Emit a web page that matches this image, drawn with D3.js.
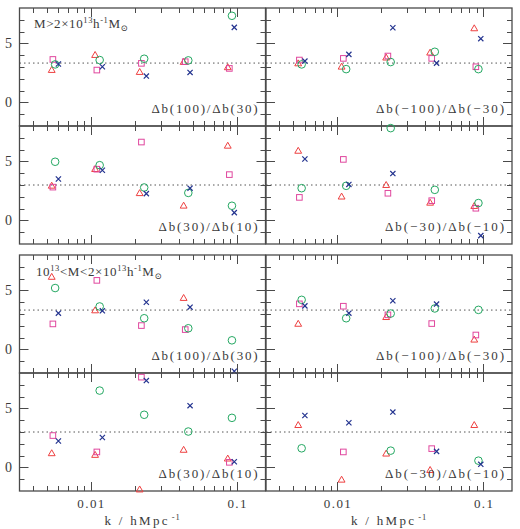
<!DOCTYPE html>
<html><head><meta charset="utf-8">
<script src="https://cdn.jsdelivr.net/npm/d3@7"></script>
<style>body{margin:0;background:#fff}svg{display:block}</style>
</head><body>
<svg id="c" width="520" height="529"></svg>
<script>
// k positions of each series (slightly offset per series)
const kTri   = [0.0054, 0.0107, 0.0216, 0.0432, 0.0866];
const kSq    = [0.0055, 0.0110, 0.0222, 0.0443, 0.0888];
const kCir   = [0.0057, 0.0115, 0.0232, 0.0465, 0.0925];
const kCross = [0.0060, 0.0120, 0.0240, 0.0478, 0.0960];

// panel ratio labels and reference lines
const panelLabels = ["Δb(100)/Δb(30)", "Δb(−100)/Δb(−30)", "Δb(30)/Δb(10)", "Δb(−30)/Δb(−10)",
                     "Δb(100)/Δb(30)", "Δb(−100)/Δb(−30)", "Δb(30)/Δb(10)", "Δb(−30)/Δb(−10)"];
const refLines = [10/3, 10/3, 3, 3, 10/3, 10/3, 3, 3];

// values per panel: triangles, squares, circles, crosses
const triVals = [
  [2.74, 4.01, 2.57, 3.42, 2.97],
  [3.30, 3.02, 3.79, 4.21, 6.27],
  [2.93, 4.34, 2.30, 1.24, 6.32],
  [5.89, 2.01, 2.99, 1.49, 1.21],
  [6.14, 3.30, null, 4.35, null],
  [2.16, null, 2.73, null, 0.82],
  [1.19, 1.05, -1.88, 1.48, 0.74],
  [3.58, -1.05, 1.16, -0.23, 3.58]
];
const sqVals = [
  [3.64, 2.74, 3.31, 3.45, 2.88],
  [3.59, 3.73, 3.93, 3.73, 3.02],
  [2.82, 4.34, 6.64, null, 3.88],
  [1.95, 5.17, 2.30, 1.67, 1.03],
  [2.16, 5.85, 2.02, 1.68, null],
  [3.86, 3.66, 2.93, 2.19, 1.22],
  [2.70, 1.31, 7.65, null, 0.43],
  [null, 1.31, null, 1.59, null]
];
const cirVals = [
  [3.22, 3.59, 3.70, 3.56, 7.34],
  [3.22, 2.82, 3.42, 4.29, 2.82],
  [4.97, 4.68, 2.79, 2.33, 1.24],
  [2.73, 2.93, 7.82, 2.59, 1.47],
  [5.20, 3.64, 2.64, 1.79, 0.77],
  [4.20, 2.64, 3.04, 3.47, 3.35],
  [null, 6.51, 4.46, 3.04, 4.20],
  [1.62, null, 1.42, null, 0.57]
];
const crossVals = [
  [3.25, 3.02, 2.23, 2.54, 6.36],
  [3.50, 4.07, 6.33, 3.33, 5.40],
  [3.51, 4.25, 2.27, 2.73, 0.66],
  [5.20, 3.05, 3.97, null, -1.29],
  [3.07, 3.27, 4.00, 3.58, -1.85],
  [3.69, 3.07, 4.12, 3.84, null],
  [2.24, 2.53, 7.36, 5.23, 0.48],
  [4.40, 3.78, 4.69, 1.36, 0.26]
];

const xTickMajor = [0.01, 0.1];
const xTickLabels = ["0.01", "0.1"];
const yTickMajor = [0, 5];
const yDomain = [-2, 8];
const xDomain = [0.00325, 0.157];

const svg = d3.select("#c");
const colX = [19.5, 266];
const pw = 246;
const rowY = [8, 126, 255, 373];
const ph = 118;
const ink = "#4a4a4a";
const txt = "#3a3a3a";
const font = "'Liberation Serif', 'DejaVu Serif', serif";

const C = {tri:"#ee4040", sq:"#e0479e", cir:"#24a862", cross:"#23338f"};

// stretch text to a target width with letter-spacing, starting at its x
function fit(t, target) {
  const n = t.text().length;
  const w = t.node().getComputedTextLength();
  if (n > 1) t.attr("letter-spacing", ((target - w) / (n - 1)).toFixed(3));
  return t;
}

const xMinor = [];
[0.001, 0.01, 0.1].forEach(d => { for (let m = 2; m <= 9; m++) { const v = d*m; if (v > xDomain[0] && v < xDomain[1]) xMinor.push(v); } });
const yMinor = d3.range(-1, 8).filter(v => !yTickMajor.includes(v));

for (let p = 0; p < 8; p++) {
  const r = Math.floor(p/2), c = p % 2;
  const x0 = colX[c], y0 = rowY[r];
  const x = d3.scaleLog().domain(xDomain).range([x0, x0 + pw]);
  const y = d3.scaleLinear().domain(yDomain).range([y0 + ph, y0]);
  const g = svg.append("g");

  // reference dotted line
  g.append("line").attr("x1", x0).attr("x2", x0 + pw)
    .attr("y1", y(refLines[p])).attr("y2", y(refLines[p]))
    .attr("stroke", "#555").attr("stroke-width", 1).attr("stroke-dasharray", "1.5,3");

  // ticks
  const tk = g.append("g").attr("stroke", ink).attr("stroke-width", 1);
  const xt = xTickMajor.map(v => [v, 9]).concat(xMinor.map(v => [v, 5]));
  xt.forEach(([v, L]) => {
    const xx = Math.round(x(v)) + 0.5;
    tk.append("line").attr("x1", xx).attr("x2", xx).attr("y1", y0 + ph).attr("y2", y0 + ph - L);
    tk.append("line").attr("x1", xx).attr("x2", xx).attr("y1", y0).attr("y2", y0 + L);
  });
  const yt = yTickMajor.map(v => [v, 9]).concat(yMinor.map(v => [v, 5]));
  yt.forEach(([v, L]) => {
    const yy = Math.round(y(v)) + 0.5;
    tk.append("line").attr("x1", x0).attr("x2", x0 + L).attr("y1", yy).attr("y2", yy);
    tk.append("line").attr("x1", x0 + pw).attr("x2", x0 + pw - L).attr("y1", yy).attr("y2", yy);
  });

  // frame
  g.append("rect").attr("x", x0).attr("y", y0).attr("width", pw).attr("height", ph)
    .attr("fill", "none").attr("stroke", ink).attr("stroke-width", 1.3);

  // y tick labels
  if (c === 0) {
    yTickMajor.forEach(v => {
      g.append("text").attr("x", 12).attr("y", y(v) + 5).attr("text-anchor", "end")
        .attr("font-family", font).attr("font-size", 14).attr("fill", txt).text(v);
    });
  }

  // markers
  const mk = g.append("g").attr("fill", "none").attr("stroke-width", 1);
  triVals[p].forEach((v, i) => { if (v === null) return;
    const cx = x(kTri[i]), cy = y(v), s = 3.6;
    mk.append("path").attr("d", `M${cx},${cy - s}L${cx + s*0.95},${cy + s*0.65}L${cx - s*0.95},${cy + s*0.65}Z`).attr("stroke", C.tri);
  });
  sqVals[p].forEach((v, i) => { if (v === null) return;
    const cx = x(kSq[i]), cy = y(v), s = 2.8;
    mk.append("rect").attr("x", cx - s).attr("y", cy - s).attr("width", 2*s).attr("height", 2*s).attr("stroke", C.sq);
  });
  cirVals[p].forEach((v, i) => { if (v === null) return;
    mk.append("circle").attr("cx", x(kCir[i])).attr("cy", y(v)).attr("r", 3.8).attr("stroke", C.cir);
  });
  crossVals[p].forEach((v, i) => { if (v === null) return;
    const cx = x(kCross[i]), cy = y(v), s = 2.6;
    mk.append("path").attr("d", `M${cx - s},${cy - s}L${cx + s},${cy + s}M${cx - s},${cy + s}L${cx + s},${cy - s}`)
      .attr("stroke", C.cross).attr("stroke-width", 1.2);
  });

  // ratio label
  const wl = [106, 128, 99, 119][p % 4];
  fit(g.append("text").attr("x", x0 + pw - 8 - wl).attr("y", y0 + 104.5)
    .attr("font-family", font).attr("font-size", 13).attr("fill", txt).text(panelLabels[p]), wl);

  // x axis labels at bottom
  if (r === 3) {
    xTickMajor.forEach((v, i) => {
      const w = i === 0 ? 27 : 19;
      fit(g.append("text").attr("x", x(v) - w/2).attr("y", 508)
        .attr("font-family", font).attr("font-size", 13).attr("fill", txt).text(xTickLabels[i]), w);
    });
    const t = g.append("text").attr("x", x0 + pw/2 - 38).attr("y", 525)
      .attr("font-family", font).attr("font-size", 13).attr("fill", txt);
    fit(t.append("tspan").text("k / hMpc"), 63);
    t.append("tspan").attr("dx", 2).attr("dy", -5).attr("font-size", 8.5).attr("letter-spacing", 1).text("-1");
  }
}

// mass labels
function massLabel(parts, xx, yy) {
  const t = svg.append("text").attr("x", xx).attr("y", yy)
    .attr("font-family", font).attr("font-size", 13).attr("fill", txt).attr("letter-spacing", 0.6);
  let cur = 0;
  parts.forEach(([s, kind]) => {
    const sp = t.append("tspan").text(s);
    const target = kind === "sup" ? -5 : kind === "sub" ? 3 : 0;
    if (target !== cur) { sp.attr("dy", target - cur); cur = target; }
    if (kind !== "n") sp.attr("font-size", 8.5);
  });
}
massLabel([["M>2×10","n"],["13","sup"],["h","n"],["-1","sup"],["M","n"],["⊙","sub"]], 34, 28);
massLabel([["10","n"],["13","sup"],["<M<2×10","n"],["13","sup"],["h","n"],["-1","sup"],["M","n"],["⊙","sub"]], 36, 276);
</script>
</body></html>
